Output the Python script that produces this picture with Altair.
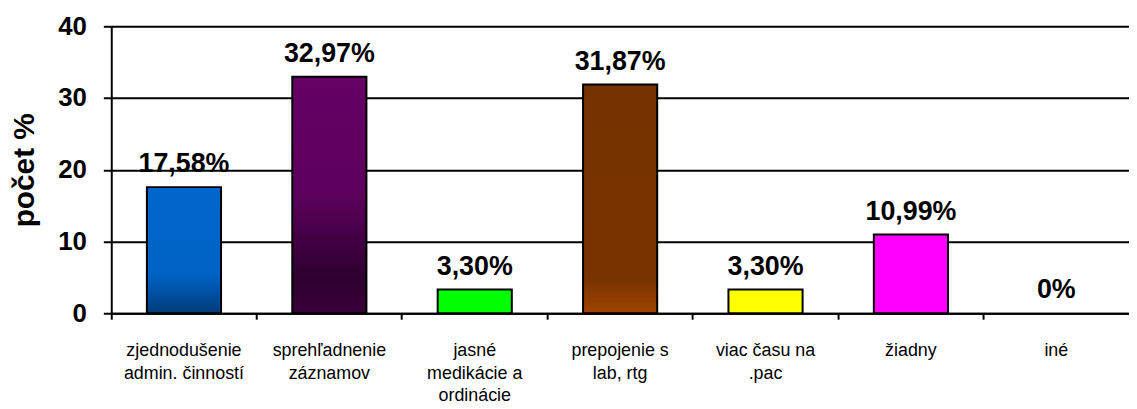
import altair as alt
import pandas as pd

categories = [
    "zjednodušenie|admin. činností",
    "sprehľadnenie|záznamov",
    "jasné|medikácie a|ordinácie",
    "prepojenie s|lab, rtg",
    "viac času na|.pac",
    "žiadny",
    "iné",
]
values = [17.58, 32.97, 3.30, 31.87, 3.30, 10.99, 0.0]

def lin(stops):
    return alt.Gradient(
        gradient="linear",
        stops=[alt.GradientStop(color=c, offset=o) for o, c in stops],
        x1=0, x2=0, y1=0, y2=1,
    )

fills = [
    lin([(0, "#0066CC"), (0.7, "#0062C4"), (1, "#003C7A")]),
    lin([(0, "#660066"), (0.5, "#5C005C"), (0.85, "#2E002E"), (1, "#3A003A")]),
    "#00FF00",
    lin([(0, "#763200"), (0.85, "#783300"), (1, "#A04400")]),
    "#FFFF00",
    "#FF00FF",
    "#FFFFFF",
]

df = pd.DataFrame({"cat": categories, "v": values})

W, H = 1025, 289
font = "Liberation Sans"

xenc = alt.X(
    "cat:N",
    sort=categories,
    scale=alt.Scale(domain=categories, paddingInner=0, paddingOuter=0),
    axis=alt.Axis(
        title=None,
        labelAngle=0,
        labelExpr="split(datum.label, '|')",
        labelFont=font,
        labelFontSize=18,
        labelColor="black",
        labelLineHeight=22.5,
        labelPadding=23,
        labelBaseline="top",
        bandPosition=0,
        ticks=True,
        tickSize=6,
        tickWidth=2,
        tickColor="black",
        domainColor="black",
        domainWidth=2,
        grid=False,
    ),
)
yenc = alt.Y(
    "v:Q",
    scale=alt.Scale(domain=[0, 40], nice=False),
    axis=alt.Axis(
        title="počet %",
        titleFont=font,
        titleFontSize=30,
        titleFontWeight="bold",
        titleColor="black",
        titlePadding=18,
        values=[0, 10, 20, 30, 40],
        labelFont=font,
        labelFontSize=26,
        labelFontWeight="bold",
        labelColor="black",
        labelPadding=17,
        tickSize=8,
        tickWidth=2,
        tickColor="black",
        domainColor="black",
        domainWidth=2,
        grid=True,
        gridColor="black",
        gridWidth=2,
        gridOpacity=1,
    ),
)

base = alt.Chart(df)
layers = []
for cat, fill in zip(categories, fills):
    if fill == "#FFFFFF":
        continue
    layers.append(
        base.transform_filter(alt.datum.cat == cat)
        .mark_bar(
            width=alt.RelativeBandSize(0.51),
            stroke="black",
            strokeWidth=2,
            fill=fill,
        )
        .encode(x=xenc, y=yenc)
    )

text = (
    base.transform_calculate(
        lab="datum.v == 0 ? '0%' : replace(format(datum.v, '.2f'), '.', ',') + '%'"
    )
    .mark_text(font=font, fontSize=27, fontWeight="bold", color="black",
               baseline="alphabetic", dy=-15)
    .encode(x=xenc, y=yenc, text="lab:N")
)

chart = (
    alt.layer(*layers, text)
    .properties(
        width=W,
        height=H,
        autosize=alt.AutoSizeParams(type="none"),
        padding={"left": 104, "top": 17, "right": 0, "bottom": 92},
    )
    .configure_view(stroke=None)
)

chart.save("out.html", embed_options={"renderer": "svg", "actions": False})
